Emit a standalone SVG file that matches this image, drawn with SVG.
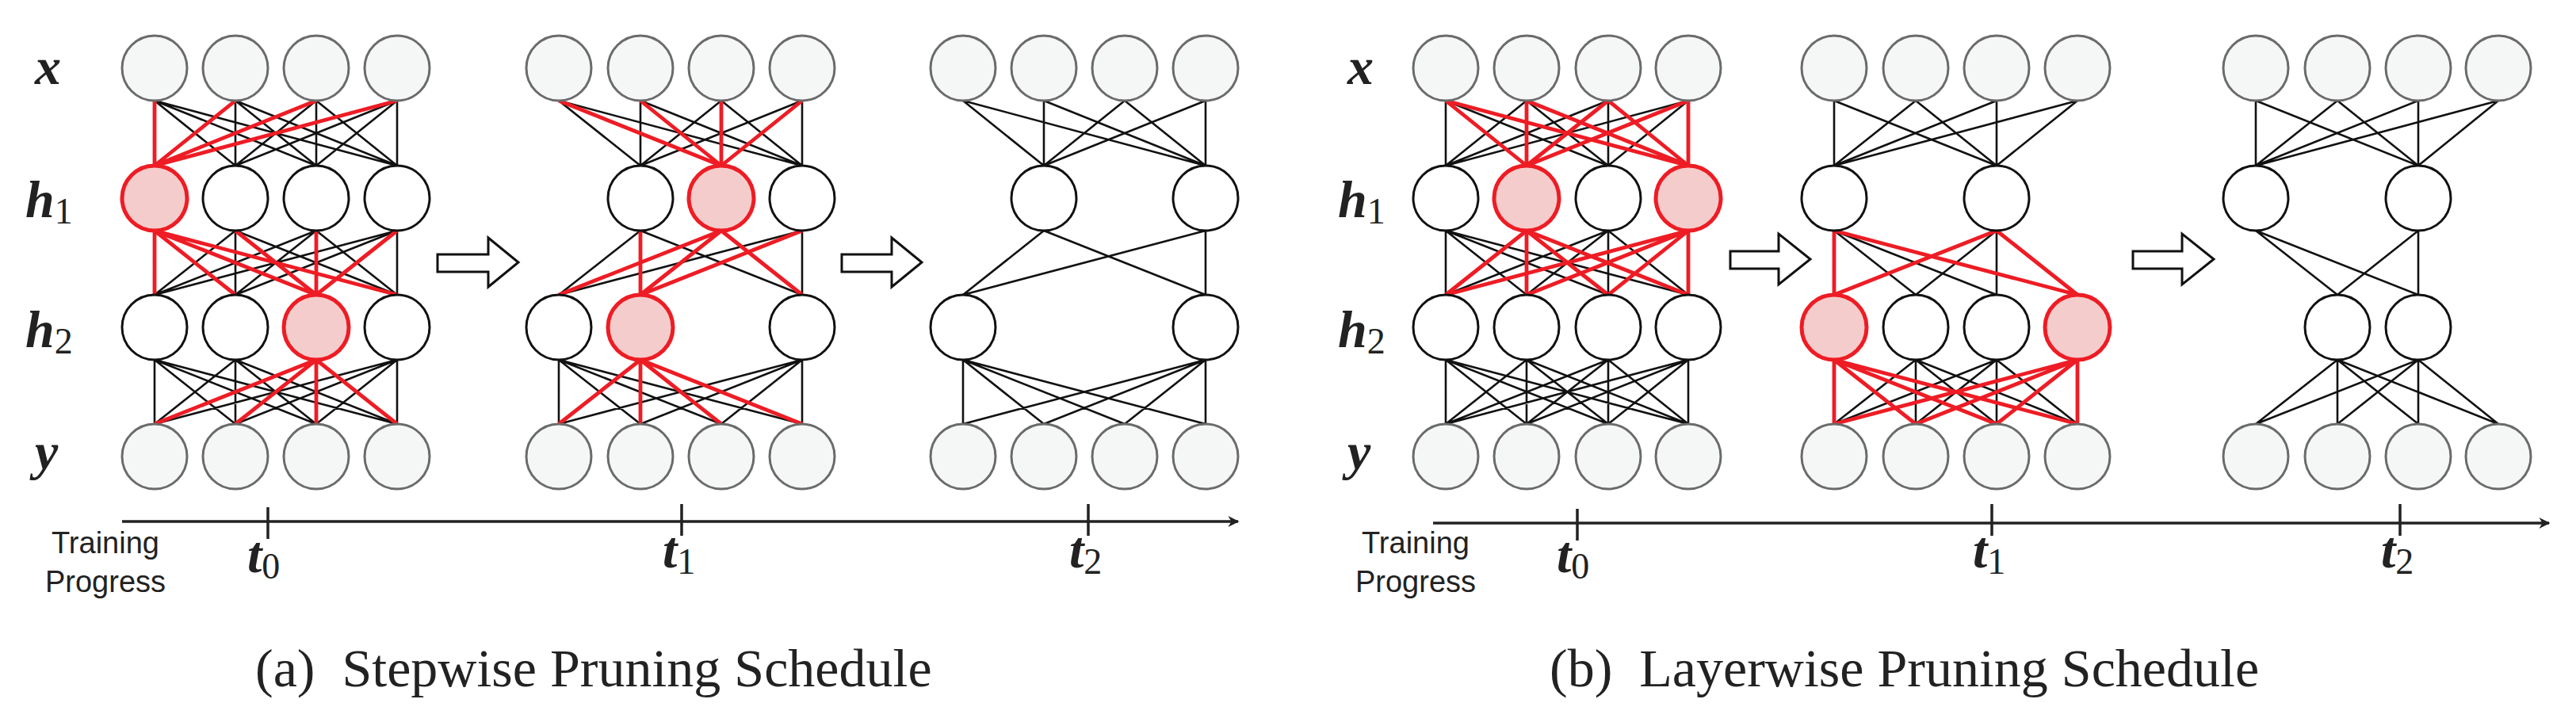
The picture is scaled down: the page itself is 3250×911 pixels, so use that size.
<svg xmlns="http://www.w3.org/2000/svg" width="3250" height="911" viewBox="0 0 3250 911">
<style>
.in{fill:#f5f7f6;stroke:#6b6b6b;stroke-width:3}
.hd{fill:#fff;stroke:#111;stroke-width:3}
.pr{fill:#f5cccc;stroke:#ee1c24;stroke-width:5}
.bk{fill:none;stroke:#111;stroke-width:2.6}
.rd{fill:none;stroke:#ee1c24;stroke-width:4.8}
.ax{fill:none;stroke:#222;stroke-width:3.5}
.ar{fill:#fff;stroke:#111;stroke-width:3}
.lab{font-family:"Liberation Serif",serif;font-style:italic;font-weight:bold;font-size:66px;fill:#222}
.sub{font-family:"Liberation Serif",serif;font-style:normal;font-weight:normal;font-size:46px}
.tp{font-family:"Liberation Sans",sans-serif;font-size:38px;fill:#222;text-anchor:middle}
.cap{font-family:"Liberation Serif",serif;font-size:68px;fill:#222;white-space:pre}
</style>
<defs>
<marker id="ah" viewBox="0 0 10 10" refX="9" refY="5" markerWidth="14" markerHeight="14" markerUnits="userSpaceOnUse" orient="auto"><path d="M0,0L10,5L0,10L3,5Z" fill="#222"/></marker>
</defs>
<g id="connectors">
<path class="bk" d="M195 127L297 209M195 127L399 209M195 127L501 209M297 127L297 209M297 127L399 209M297 127L501 209M399 127L297 209M399 127L399 209M399 127L501 209M501 127L297 209M501 127L399 209M501 127L501 209
M297 291L195 372M297 291L297 372M297 291L501 372M399 291L195 372M399 291L297 372M399 291L501 372M501 291L195 372M501 291L297 372M501 291L501 372
M195 454L195 535M195 454L297 535M195 454L399 535M195 454L501 535M297 454L195 535M297 454L297 535M297 454L399 535M297 454L501 535M501 454L195 535M501 454L297 535M501 454L399 535M501 454L501 535"/>
<path class="rd" d="M195 127L195 209M297 127L195 209M399 127L195 209M501 127L195 209
M195 291L195 372M195 291L297 372M195 291L399 372M195 291L501 372M297 291L399 372M399 291L399 372M501 291L399 372
M399 454L195 535M399 454L297 535M399 454L399 535M399 454L501 535"/>
<path class="bk" d="M705 127L808 209M705 127L1012 209M808 127L808 209M808 127L1012 209M910 127L808 209M910 127L1012 209M1012 127L808 209M1012 127L1012 209
M808 291L705 372M808 291L1012 372M1012 291L705 372M1012 291L1012 372
M705 454L705 535M705 454L808 535M705 454L910 535M705 454L1012 535M1012 454L705 535M1012 454L808 535M1012 454L910 535M1012 454L1012 535"/>
<path class="rd" d="M705 127L910 209M808 127L910 209M910 127L910 209M1012 127L910 209
M910 291L705 372M910 291L808 372M910 291L1012 372M808 291L808 372M1012 291L808 372
M808 454L705 535M808 454L808 535M808 454L910 535M808 454L1012 535"/>
<path class="bk" d="M1215 127L1317 209M1215 127L1521 209M1317 127L1317 209M1317 127L1521 209M1419 127L1317 209M1419 127L1521 209M1521 127L1317 209M1521 127L1521 209
M1317 291L1215 372M1317 291L1521 372M1521 291L1215 372M1521 291L1521 372
M1215 454L1215 535M1215 454L1317 535M1215 454L1419 535M1215 454L1521 535M1521 454L1215 535M1521 454L1317 535M1521 454L1419 535M1521 454L1521 535"/>
<path class="bk" d="M1824 127L1824 209M1824 127L2029 209M1926 127L1824 209M1926 127L2029 209M2029 127L1824 209M2029 127L2029 209M2130 127L1824 209M2130 127L2029 209
M1824 291L1824 372M1824 291L1926 372M1824 291L2029 372M1824 291L2130 372M2029 291L1824 372M2029 291L1926 372M2029 291L2029 372M2029 291L2130 372
M1824 454L1824 535M1824 454L1926 535M1824 454L2029 535M1824 454L2130 535M1926 454L1824 535M1926 454L1926 535M1926 454L2029 535M1926 454L2130 535M2029 454L1824 535M2029 454L1926 535M2029 454L2029 535M2029 454L2130 535M2130 454L1824 535M2130 454L1926 535M2130 454L2029 535M2130 454L2130 535"/>
<path class="rd" d="M1824 127L1926 209M1824 127L2130 209M1926 127L1926 209M1926 127L2130 209M2029 127L1926 209M2029 127L2130 209M2130 127L1926 209M2130 127L2130 209
M1926 291L1824 372M1926 291L1926 372M1926 291L2029 372M1926 291L2130 372M2130 291L1824 372M2130 291L1926 372M2130 291L2029 372M2130 291L2130 372"/>
<path class="bk" d="M2314 127L2314 209M2314 127L2519 209M2417 127L2314 209M2417 127L2519 209M2519 127L2314 209M2519 127L2519 209M2621 127L2314 209M2621 127L2519 209
M2314 291L2417 372M2314 291L2519 372M2519 291L2417 372M2519 291L2519 372
M2417 454L2314 535M2417 454L2417 535M2417 454L2519 535M2417 454L2621 535M2519 454L2314 535M2519 454L2417 535M2519 454L2519 535M2519 454L2621 535"/>
<path class="rd" d="M2314 291L2314 372M2314 291L2621 372M2519 291L2314 372M2519 291L2621 372
M2314 454L2314 535M2314 454L2417 535M2314 454L2519 535M2314 454L2621 535M2621 454L2314 535M2621 454L2417 535M2621 454L2519 535M2621 454L2621 535"/>
<path class="bk" d="M2846 127L2846 209M2846 127L3051 209M2949 127L2846 209M2949 127L3051 209M3051 127L2846 209M3051 127L3051 209M3152 127L2846 209M3152 127L3051 209
M2846 291L2949 372M2846 291L3051 372M3051 291L2949 372M3051 291L3051 372
M2949 454L2846 535M2949 454L2949 535M2949 454L3051 535M2949 454L3152 535M3051 454L2846 535M3051 454L2949 535M3051 454L3051 535M3051 454L3152 535"/>
</g>
<g id="a1">
<g id="a1-x0"><circle class="in" cx="195" cy="86" r="41"/></g><g id="a1-x1"><circle class="in" cx="297" cy="86" r="41"/></g><g id="a1-x2"><circle class="in" cx="399" cy="86" r="41"/></g><g id="a1-x3"><circle class="in" cx="501" cy="86" r="41"/></g>
<g id="a1-h1-0"><circle class="pr" cx="195" cy="250" r="41"/></g><g id="a1-h1-1"><circle class="hd" cx="297" cy="250" r="41"/></g><g id="a1-h1-2"><circle class="hd" cx="399" cy="250" r="41"/></g><g id="a1-h1-3"><circle class="hd" cx="501" cy="250" r="41"/></g>
<g id="a1-h2-0"><circle class="hd" cx="195" cy="413" r="41"/></g><g id="a1-h2-1"><circle class="hd" cx="297" cy="413" r="41"/></g><g id="a1-h2-2"><circle class="pr" cx="399" cy="413" r="41"/></g><g id="a1-h2-3"><circle class="hd" cx="501" cy="413" r="41"/></g>
<g id="a1-y0"><circle class="in" cx="195" cy="576" r="41"/></g><g id="a1-y1"><circle class="in" cx="297" cy="576" r="41"/></g><g id="a1-y2"><circle class="in" cx="399" cy="576" r="41"/></g><g id="a1-y3"><circle class="in" cx="501" cy="576" r="41"/></g>
</g>
<g id="a2">
<g id="a2-x0"><circle class="in" cx="705" cy="86" r="41"/></g><g id="a2-x1"><circle class="in" cx="808" cy="86" r="41"/></g><g id="a2-x2"><circle class="in" cx="910" cy="86" r="41"/></g><g id="a2-x3"><circle class="in" cx="1012" cy="86" r="41"/></g>
<g id="a2-h1-1"><circle class="hd" cx="808" cy="250" r="41"/></g><g id="a2-h1-2"><circle class="pr" cx="910" cy="250" r="41"/></g><g id="a2-h1-3"><circle class="hd" cx="1012" cy="250" r="41"/></g>
<g id="a2-h2-0"><circle class="hd" cx="705" cy="413" r="41"/></g><g id="a2-h2-1"><circle class="pr" cx="808" cy="413" r="41"/></g><g id="a2-h2-3"><circle class="hd" cx="1012" cy="413" r="41"/></g>
<g id="a2-y0"><circle class="in" cx="705" cy="576" r="41"/></g><g id="a2-y1"><circle class="in" cx="808" cy="576" r="41"/></g><g id="a2-y2"><circle class="in" cx="910" cy="576" r="41"/></g><g id="a2-y3"><circle class="in" cx="1012" cy="576" r="41"/></g>
</g>
<g id="a3">
<g id="a3-x0"><circle class="in" cx="1215" cy="86" r="41"/></g><g id="a3-x1"><circle class="in" cx="1317" cy="86" r="41"/></g><g id="a3-x2"><circle class="in" cx="1419" cy="86" r="41"/></g><g id="a3-x3"><circle class="in" cx="1521" cy="86" r="41"/></g>
<g id="a3-h1-1"><circle class="hd" cx="1317" cy="250" r="41"/></g><g id="a3-h1-3"><circle class="hd" cx="1521" cy="250" r="41"/></g>
<g id="a3-h2-0"><circle class="hd" cx="1215" cy="413" r="41"/></g><g id="a3-h2-3"><circle class="hd" cx="1521" cy="413" r="41"/></g>
<g id="a3-y0"><circle class="in" cx="1215" cy="576" r="41"/></g><g id="a3-y1"><circle class="in" cx="1317" cy="576" r="41"/></g><g id="a3-y2"><circle class="in" cx="1419" cy="576" r="41"/></g><g id="a3-y3"><circle class="in" cx="1521" cy="576" r="41"/></g>
</g>
<g id="b1">
<g id="b1-x0"><circle class="in" cx="1824" cy="86" r="41"/></g><g id="b1-x1"><circle class="in" cx="1926" cy="86" r="41"/></g><g id="b1-x2"><circle class="in" cx="2029" cy="86" r="41"/></g><g id="b1-x3"><circle class="in" cx="2130" cy="86" r="41"/></g>
<g id="b1-h1-0"><circle class="hd" cx="1824" cy="250" r="41"/></g><g id="b1-h1-1"><circle class="pr" cx="1926" cy="250" r="41"/></g><g id="b1-h1-2"><circle class="hd" cx="2029" cy="250" r="41"/></g><g id="b1-h1-3"><circle class="pr" cx="2130" cy="250" r="41"/></g>
<g id="b1-h2-0"><circle class="hd" cx="1824" cy="413" r="41"/></g><g id="b1-h2-1"><circle class="hd" cx="1926" cy="413" r="41"/></g><g id="b1-h2-2"><circle class="hd" cx="2029" cy="413" r="41"/></g><g id="b1-h2-3"><circle class="hd" cx="2130" cy="413" r="41"/></g>
<g id="b1-y0"><circle class="in" cx="1824" cy="576" r="41"/></g><g id="b1-y1"><circle class="in" cx="1926" cy="576" r="41"/></g><g id="b1-y2"><circle class="in" cx="2029" cy="576" r="41"/></g><g id="b1-y3"><circle class="in" cx="2130" cy="576" r="41"/></g>
</g>
<g id="b2">
<g id="b2-x0"><circle class="in" cx="2314" cy="86" r="41"/></g><g id="b2-x1"><circle class="in" cx="2417" cy="86" r="41"/></g><g id="b2-x2"><circle class="in" cx="2519" cy="86" r="41"/></g><g id="b2-x3"><circle class="in" cx="2621" cy="86" r="41"/></g>
<g id="b2-h1-0"><circle class="hd" cx="2314" cy="250" r="41"/></g><g id="b2-h1-2"><circle class="hd" cx="2519" cy="250" r="41"/></g>
<g id="b2-h2-0"><circle class="pr" cx="2314" cy="413" r="41"/></g><g id="b2-h2-1"><circle class="hd" cx="2417" cy="413" r="41"/></g><g id="b2-h2-2"><circle class="hd" cx="2519" cy="413" r="41"/></g><g id="b2-h2-3"><circle class="pr" cx="2621" cy="413" r="41"/></g>
<g id="b2-y0"><circle class="in" cx="2314" cy="576" r="41"/></g><g id="b2-y1"><circle class="in" cx="2417" cy="576" r="41"/></g><g id="b2-y2"><circle class="in" cx="2519" cy="576" r="41"/></g><g id="b2-y3"><circle class="in" cx="2621" cy="576" r="41"/></g>
</g>
<g id="b3">
<g id="b3-x0"><circle class="in" cx="2846" cy="86" r="41"/></g><g id="b3-x1"><circle class="in" cx="2949" cy="86" r="41"/></g><g id="b3-x2"><circle class="in" cx="3051" cy="86" r="41"/></g><g id="b3-x3"><circle class="in" cx="3152" cy="86" r="41"/></g>
<g id="b3-h1-0"><circle class="hd" cx="2846" cy="250" r="41"/></g><g id="b3-h1-2"><circle class="hd" cx="3051" cy="250" r="41"/></g>
<g id="b3-h2-1"><circle class="hd" cx="2949" cy="413" r="41"/></g><g id="b3-h2-2"><circle class="hd" cx="3051" cy="413" r="41"/></g>
<g id="b3-y0"><circle class="in" cx="2846" cy="576" r="41"/></g><g id="b3-y1"><circle class="in" cx="2949" cy="576" r="41"/></g><g id="b3-y2"><circle class="in" cx="3051" cy="576" r="41"/></g><g id="b3-y3"><circle class="in" cx="3152" cy="576" r="41"/></g>
</g>
<g id="arrows">
<polygon class="ar" points="552,321 616,321 616,300 654,331 616,362 616,343 552,343"/>
<polygon class="ar" points="1062,321 1125,321 1125,300 1163,331 1125,362 1125,343 1062,343"/>
<polygon class="ar" points="2183,317 2244,317 2244,295 2284,327 2244,359 2244,339 2183,339"/>
<polygon class="ar" points="2691,317 2753,317 2753,295 2793,327 2753,359 2753,339 2691,339"/>
</g>
<g id="axes">
<path class="ax" d="M154 658L1562 658" marker-end="url(#ah)"/>
<path class="ax" d="M338 640V680M860 636V676M1373 636V676"/>
<path class="ax" d="M1808 660L3216 660" marker-end="url(#ah)"/>
<path class="ax" d="M1990 642V682M2513 636V676M3028 636V676"/>
</g>
<g id="labels">
<text class="lab" x="44" y="106">x</text>
<text class="lab" x="32" y="274">h<tspan class="sub" dy="8">1</tspan></text>
<text class="lab" x="32" y="438">h<tspan class="sub" dy="8">2</tspan></text>
<text class="lab" x="44" y="592">y</text>
<text class="lab" x="1700" y="106">x</text>
<text class="lab" x="1688" y="274">h<tspan class="sub" dy="8">1</tspan></text>
<text class="lab" x="1688" y="438">h<tspan class="sub" dy="8">2</tspan></text>
<text class="lab" x="1700" y="592">y</text>
<text class="lab" x="312" y="722">t<tspan class="sub" dy="8">0</tspan></text>
<text class="lab" x="836" y="716">t<tspan class="sub" dy="8">1</tspan></text>
<text class="lab" x="1349" y="716">t<tspan class="sub" dy="8">2</tspan></text>
<text class="lab" x="1964" y="722">t<tspan class="sub" dy="8">0</tspan></text>
<text class="lab" x="2489" y="716">t<tspan class="sub" dy="8">1</tspan></text>
<text class="lab" x="3004" y="716">t<tspan class="sub" dy="8">2</tspan></text>
<text class="tp" x="133" y="698">Training</text>
<text class="tp" x="133" y="747">Progress</text>
<text class="tp" x="1786" y="698">Training</text>
<text class="tp" x="1786" y="747">Progress</text>
<text class="cap" x="322" y="866">(a)  Stepwise Pruning Schedule</text>
<text class="cap" x="1955" y="866">(b)  Layerwise Pruning Schedule</text>
</g>
</svg>
